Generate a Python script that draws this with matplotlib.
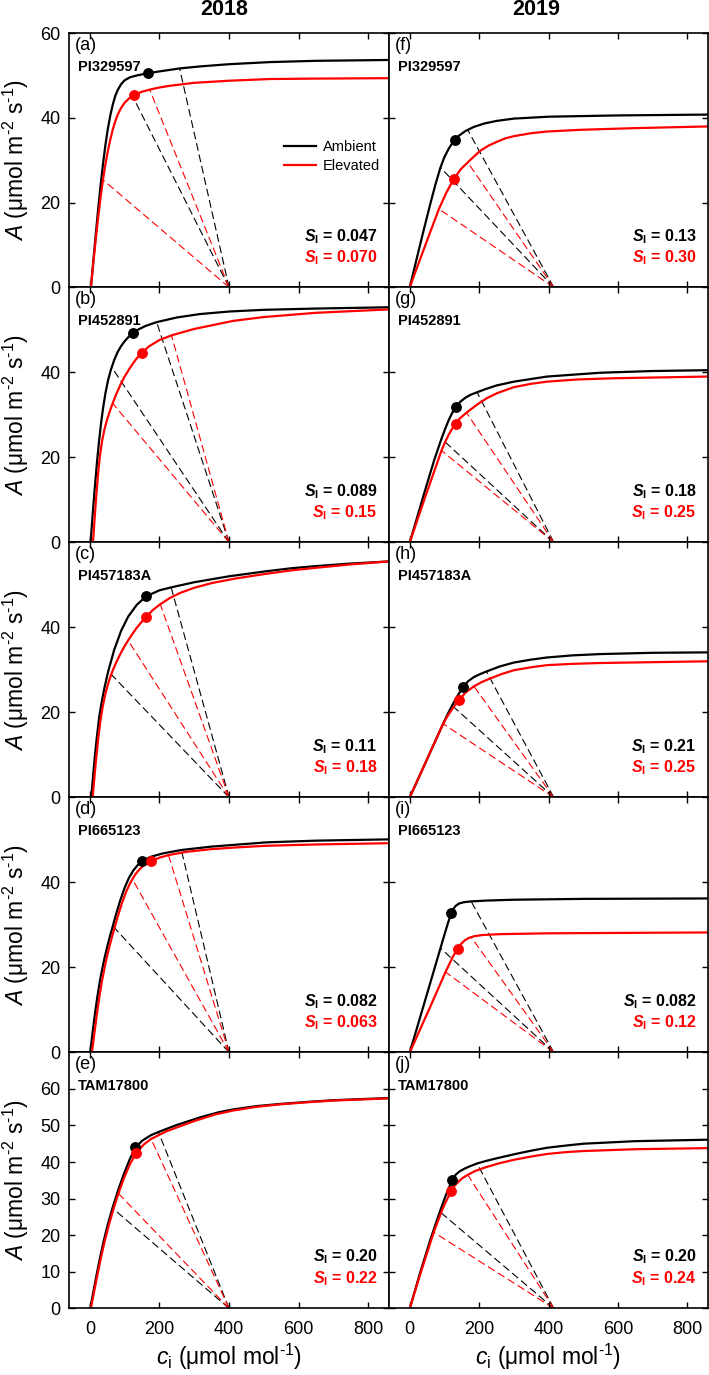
import matplotlib
matplotlib.use('Agg')
import matplotlib.pyplot as plt

plt.rcParams['font.family'] = ['Liberation Sans', 'DejaVu Sans']
plt.rcParams['mathtext.fontset'] = 'custom'
plt.rcParams['mathtext.rm'] = 'Liberation Sans'
plt.rcParams['mathtext.it'] = 'Liberation Sans:italic'
plt.rcParams['mathtext.bf'] = 'Liberation Sans:bold'
plt.rcParams['mathtext.bfit'] = 'Liberation Sans:italic:bold'

years = ['2018', '2019']
genotypes = ['PI329597', 'PI452891', 'PI457183A', 'PI665123', 'TAM17800']
letters = ['abcde', 'fghij']
ca = [400, 415]          # ambient CO2 where the supply lines meet

# ---- 2018 ----
ci_a_amb = [3, 10, 17, 24, 31, 38, 45, 52, 59, 66, 73, 80, 90, 100, 115, 133, 150, 168, 200, 258, 320, 400, 518, 650, 860]
A_a_amb = [0, 6.3, 12.5, 18.6, 24.2, 29.3, 33.8, 37.6, 40.7, 43.2, 45.2, 46.6, 48.0, 48.9, 49.6, 50.0, 50.3, 50.6, 51.0, 51.7, 52.2, 52.7, 53.2, 53.5, 53.7]
ci_a_elev = [3, 10, 17, 24, 31, 38, 45, 52, 59, 66, 73, 80, 90, 100, 115, 128, 150, 172, 200, 230, 300, 400, 518, 650, 860]
A_a_elev = [0, 5.8, 11.4, 16.6, 21.4, 25.6, 29.2, 32.3, 35.0, 37.3, 39.2, 40.8, 42.4, 43.6, 44.8, 45.5, 46.2, 46.7, 47.2, 47.6, 48.3, 48.8, 49.2, 49.3, 49.4]
op_a = [(168, 50.6), (128, 45.5)]
dash_a_amb = [(258, 51.7), (120, 45.6)]
dash_a_elev = [(172, 46.7), (37.5, 25.4)]

ci_b_amb = [2, 8, 14, 20, 26, 32, 38, 45, 52, 60, 70, 80, 90, 100, 112, 123, 140, 160, 192, 250, 316, 400, 500, 650, 860]
A_b_amb = [0, 6.5, 12.7, 18.4, 23.5, 27.9, 31.6, 35.2, 38.0, 40.5, 42.9, 44.8, 46.2, 47.3, 48.4, 49.2, 50.1, 50.9, 51.8, 52.9, 53.7, 54.3, 54.7, 55.0, 55.3]
ci_b_elev = [9, 14, 19, 24, 29, 35, 42, 50, 58, 66, 76, 88, 100, 115, 132, 149, 170, 200, 235, 300, 412, 500, 650, 860]
A_b_elev = [0, 6.0, 11.6, 16.5, 20.4, 23.8, 26.6, 29.0, 31.0, 32.8, 34.9, 37.1, 39.0, 41.0, 43.0, 44.6, 46.1, 47.6, 48.7, 50.2, 52.1, 53.0, 54.0, 54.8]
op_b = [(123, 49.2), (149, 44.6)]
dash_b_amb = [(192, 51.8), (62.6, 41.2)]
dash_b_elev = [(235, 48.6), (65.6, 32.7)]

ci_c_amb = [4, 9, 14, 20, 27, 34, 42, 53, 70, 90, 110, 135, 162, 200, 234, 300, 400, 508, 580, 650, 750, 860]
A_c_amb = [0, 4.8, 9.3, 14.1, 19.0, 22.4, 25.8, 29.7, 34.7, 39.2, 42.5, 45.3, 47.3, 48.7, 49.4, 50.6, 52.0, 53.2, 53.9, 54.4, 55.0, 55.5]
ci_c_elev = [8, 13, 18, 24, 30, 37, 45, 55, 65, 75, 88, 100, 110, 122, 134, 146, 159, 180, 202, 230, 260, 300, 350, 420, 508, 580, 650, 750, 860]
A_c_elev = [0, 4.6, 9.0, 13.8, 17.8, 21.4, 24.5, 27.4, 29.7, 31.6, 33.8, 35.6, 36.9, 38.4, 39.8, 41.0, 42.2, 44.0, 45.4, 46.9, 48.1, 49.3, 50.4, 51.5, 52.6, 53.4, 54.0, 54.8, 55.5]
op_c = [(162, 47.4), (160, 42.4)]
dash_c_amb = [(234, 49.3), (53.4, 29.6)]
dash_c_elev = [(202, 45.5), (110, 36.9)]

ci_d_amb = [1, 8, 15, 22, 30, 40, 50, 58, 66, 76, 88, 100, 112, 125, 137, 150, 175, 210, 263, 350, 508, 650, 860]
A_d_amb = [0, 4.8, 9.3, 13.3, 17.3, 21.4, 24.9, 27.4, 29.7, 32.7, 35.9, 38.7, 41.0, 42.8, 44.0, 45.0, 46.0, 46.8, 47.6, 48.4, 49.4, 49.8, 50.1]
ci_d_elev = [6, 13, 20, 27, 35, 45, 55, 63, 71, 81, 93, 105, 117, 130, 142, 155, 177, 200, 226, 280, 350, 420, 508, 650, 860]
A_d_elev = [0, 4.5, 8.9, 12.9, 16.9, 21.0, 24.5, 27.0, 29.3, 32.2, 35.3, 37.9, 40.0, 41.8, 43.0, 44.0, 45.0, 45.8, 46.4, 47.2, 47.8, 48.2, 48.6, 48.9, 49.2]
op_d = [(150, 45.0), (177, 45.0)]
dash_d_amb = [(263, 47.6), (66, 29.7)]
dash_d_elev = [(226, 46.4), (122, 40.8)]

ci_e_amb = [1, 10, 20, 30, 40, 52, 65, 82, 98, 114, 130, 150, 175, 197, 249, 320, 370, 413, 480, 550, 620, 700, 780, 860]
A_e_amb = [0, 4.5, 9.5, 14.2, 18.5, 23.1, 27.4, 32.5, 36.8, 40.6, 43.8, 45.8, 47.3, 48.2, 50.1, 52.3, 53.6, 54.4, 55.3, 55.9, 56.4, 56.9, 57.2, 57.5]
ci_e_elev = [3, 12, 22, 32, 42, 55, 68, 82, 98, 116, 134, 155, 176, 220, 300, 360, 413, 480, 550, 620, 700, 780, 860]
A_e_elev = [0, 4.5, 9.3, 13.9, 18.1, 22.9, 27.2, 31.4, 35.6, 39.6, 42.5, 44.8, 46.3, 48.4, 51.2, 53.0, 54.1, 55.1, 55.8, 56.3, 56.8, 57.1, 57.4]
op_e = [(130, 44.2), (134, 42.4)]
dash_e_amb = [(197, 48.2), (65, 27.4)]
dash_e_elev = [(176, 46.3), (82, 31.4)]

# ---- 2019 ----
ci_f_amb = [0, 20, 40, 60, 75, 88, 100, 112, 125, 140, 160, 185, 215, 250, 300, 400, 600, 860]
A_f_amb = [0, 6.8, 13.5, 20.0, 24.6, 28.2, 30.8, 32.7, 34.4, 35.7, 36.9, 37.9, 38.7, 39.3, 39.85, 40.3, 40.6, 40.8]
ci_f_elev = [0, 20, 40, 60, 84, 105, 127, 147, 167, 185, 204, 228, 252, 276, 300, 350, 396, 492, 570, 650, 860]
A_f_elev = [0, 4.5, 8.9, 13.3, 18.5, 22.3, 25.6, 27.9, 29.5, 30.9, 32.3, 33.5, 34.4, 35.2, 35.7, 36.4, 36.8, 37.2, 37.4, 37.6, 38.0]
op_f = [(129, 34.8), (127, 25.6)]
dash_f_amb = [(167, 37.2), (88.5, 28.3)]
dash_f_elev = [(167, 29.5), (84, 18.5)]

ci_g_amb = [0, 45, 70, 91.4, 102, 112, 122, 133, 146, 160, 175, 194, 220, 250, 300, 396, 550, 700, 860]
A_g_amb = [0, 12.5, 19.25, 24.4, 26.7, 28.7, 30.4, 31.9, 33.1, 34.0, 34.7, 35.3, 36.1, 36.9, 37.8, 39.0, 39.9, 40.3, 40.5]
ci_g_elev = [0, 45, 70, 91.4, 102, 112, 122, 132, 145, 163.5, 194, 222, 252, 300, 350, 396, 480, 588, 860]
A_g_elev = [0, 10.8, 16.6, 21.6, 23.6, 25.3, 26.7, 27.9, 29.2, 30.5, 32.4, 33.9, 35.1, 36.5, 37.3, 37.8, 38.3, 38.6, 39.0]
op_g = [(133, 31.9), (132, 27.9)]
dash_g_amb = [(194, 35.3), (91.4, 24.4)]
dash_g_elev = [(163.5, 30.5), (91.4, 21.6)]

ci_h_amb = [0, 50, 96, 110, 122, 140, 154, 168, 185, 203, 221, 260, 300, 350, 396, 470, 550, 700, 860]
A_h_amb = [0, 9.0, 17.3, 19.7, 21.6, 24.2, 26.0, 27.3, 28.3, 29.0, 29.6, 30.8, 31.7, 32.4, 32.9, 33.4, 33.7, 34.0, 34.1]
ci_h_elev = [0, 50, 96, 108, 120, 141, 163, 185, 207, 230, 265, 300, 350, 396, 470, 550, 860]
A_h_elev = [0, 9.0, 17.3, 19.0, 20.5, 22.9, 24.8, 26.1, 27.1, 27.9, 29.0, 29.9, 30.6, 31.1, 31.4, 31.6, 32.0]
op_h = [(154, 26.0), (141, 22.9)]
dash_h_amb = [(221, 29.6), (122, 21.6)]
dash_h_elev = [(185, 26.1), (96, 17.3)]

ci_i_amb = [0, 60, 100, 110, 119, 126, 133, 142, 155, 175, 220, 300, 500, 860]
A_i_amb = [0, 16.6, 27.7, 30.4, 32.6, 33.8, 34.5, 35.0, 35.3, 35.5, 35.7, 35.9, 36.1, 36.2]
ci_i_elev = [0, 60, 103, 125, 138, 148, 158, 170, 185, 210, 260, 400, 860]
A_i_elev = [0, 10.9, 18.9, 22.6, 24.4, 25.5, 26.3, 26.9, 27.3, 27.6, 27.8, 28.0, 28.2]
op_i = [(119, 32.8), (138, 24.4)]
dash_i_amb = [(177, 35.5), (88.5, 24.5)]
dash_i_elev = [(177, 27.1), (103, 18.9)]

ci_j_amb = [0, 30, 60, 86.6, 105, 122, 132, 143, 158, 175, 194, 220, 250, 300, 350, 396, 450, 500, 650, 860]
A_j_amb = [0, 9.8, 19.0, 26.4, 31.2, 35.0, 36.5, 37.4, 38.2, 38.9, 39.6, 40.3, 41.0, 42.1, 43.1, 43.9, 44.5, 45.0, 45.7, 46.1]
ci_j_elev = [0, 30, 69, 95, 119, 129, 140, 152, 167, 190, 220, 260, 300, 350, 396, 450, 500, 650, 860]
A_j_elev = [0, 9.3, 20.8, 27.3, 32.1, 33.5, 34.6, 35.6, 36.5, 37.6, 38.6, 39.7, 40.6, 41.5, 42.2, 42.7, 43.0, 43.5, 43.8]
op_j = [(122, 35.0), (119, 32.1)]
dash_j_amb = [(194, 39.6), (86.6, 26.4)]
dash_j_elev = [(167, 36.5), (69, 20.8)]

# stomatal limitation labels (ambient, elevated)
sl_2018 = [('0.047', '0.070'), ('0.089', '0.15'), ('0.11', '0.18'), ('0.082', '0.063'), ('0.20', '0.22')]
sl_2019 = [('0.13', '0.30'), ('0.18', '0.25'), ('0.21', '0.25'), ('0.082', '0.12'), ('0.20', '0.24')]

panels = [
    [(ci_a_amb, A_a_amb, ci_a_elev, A_a_elev, op_a, dash_a_amb, dash_a_elev),
     (ci_b_amb, A_b_amb, ci_b_elev, A_b_elev, op_b, dash_b_amb, dash_b_elev),
     (ci_c_amb, A_c_amb, ci_c_elev, A_c_elev, op_c, dash_c_amb, dash_c_elev),
     (ci_d_amb, A_d_amb, ci_d_elev, A_d_elev, op_d, dash_d_amb, dash_d_elev),
     (ci_e_amb, A_e_amb, ci_e_elev, A_e_elev, op_e, dash_e_amb, dash_e_elev)],
    [(ci_f_amb, A_f_amb, ci_f_elev, A_f_elev, op_f, dash_f_amb, dash_f_elev),
     (ci_g_amb, A_g_amb, ci_g_elev, A_g_elev, op_g, dash_g_amb, dash_g_elev),
     (ci_h_amb, A_h_amb, ci_h_elev, A_h_elev, op_h, dash_h_amb, dash_h_elev),
     (ci_i_amb, A_i_amb, ci_i_elev, A_i_elev, op_i, dash_i_amb, dash_i_elev),
     (ci_j_amb, A_j_amb, ci_j_elev, A_j_elev, op_j, dash_j_amb, dash_j_elev)],
]
sl = [sl_2018, sl_2019]

RED = '#ff0000'
W, H = 709, 1375
col_x = [(69, 389), (389, 708)]
row_y = [(33.3, 287.3), (287.3, 542.3), (542.3, 797.3), (797.3, 1052.3), (1052.3, 1308.3)]

fig = plt.figure(figsize=(W / 100, H / 100), dpi=100)

for col in range(2):
    x0, x1 = col_x[col]
    for row in range(5):
        yt, yb = row_y[row]
        ax = fig.add_axes([x0 / W, 1 - yb / H, (x1 - x0) / W, (yb - yt) / H])
        ci_amb, a_amb, ci_elev, a_elev, op, d_amb, d_elev = panels[col][row]

        for (x, y) in d_amb:
            ax.plot([ca[col], x], [0, y], color='k', lw=0.8, ls=(0, (7, 3.5)), zorder=1)
        for (x, y) in d_elev:
            ax.plot([ca[col], x], [0, y], color=RED, lw=0.8, ls=(0, (7, 3.5)), zorder=1)

        amb_line, = ax.plot(ci_amb, a_amb, color='k', lw=1.6, zorder=2, label='Ambient')
        elev_line, = ax.plot(ci_elev, a_elev, color=RED, lw=1.6, zorder=2, label='Elevated')
        ax.plot(*op[0], 'o', color='k', ms=6.8, zorder=3)
        ax.plot(*op[1], 'o', color=RED, ms=6.8, zorder=3)

        ax.set_xlim(-60, 860)
        ax.set_xticks([0, 200, 400, 600, 800])
        if row < 4:
            ax.set_ylim(0, 60)
            ax.set_yticks([0, 20, 40, 60])
            ylabels = ['0', '20', '40', '60' if row == 0 else '']
        else:
            ax.set_ylim(0, 70)
            ax.set_yticks(range(0, 71, 10))
            ylabels = [str(v) for v in range(0, 61, 10)] + ['']
        ax.set_yticklabels(ylabels)

        ax.tick_params(direction='in', top=True, right=True, length=4.5, width=1, labelsize=13)
        ax.tick_params(axis='x', pad=9, labelbottom=(row == 4))
        ax.tick_params(axis='y', pad=6, labelleft=(col == 0))
        for sp in ax.spines.values():
            sp.set_linewidth(1.2)

        if col == 0:
            ax.set_ylabel(r'$\mathit{A}$ (μmol m$^{\text{-}2}$ s$^{\text{-}1}$)', fontsize=16.5, labelpad=7)
        if row == 4:
            ax.set_xlabel(r'$\mathit{c}_\mathrm{i}$ (μmol mol$^{\text{-}1}$)', fontsize=16.5, labelpad=3)

        ax.text(0.018, 0.985, '(%s)' % letters[col][row], transform=ax.transAxes,
                ha='left', va='top', fontsize=13)
        ax.text(0.028, 0.895, genotypes[row], transform=ax.transAxes,
                ha='left', va='top', fontsize=10.5, fontweight='bold')
        s_amb, s_elev = sl[col][row]
        ax.text(0.965, 0.2, r'$\mathbfit{S}_\mathbf{l}$ = ' + s_amb, transform=ax.transAxes,
                ha='right', va='center', fontsize=11.5, fontweight='bold', color='k')
        ax.text(0.965, 0.115, r'$\mathbfit{S}_\mathbf{l}$ = ' + s_elev, transform=ax.transAxes,
                ha='right', va='center', fontsize=11.5, fontweight='bold', color=RED)

        if col == 0 and row == 0:
            ax.legend(handles=[amb_line, elev_line], loc='center left', bbox_to_anchor=(0.63, 0.515),
                      frameon=False, fontsize=10.5, handlelength=2.2, handletextpad=0.5, labelspacing=0.35)

fig.text(224 / W, 1 - 9.5 / H, years[0], ha='center', va='center', fontsize=15.5, fontweight='bold')
fig.text(536 / W, 1 - 9.5 / H, years[1], ha='center', va='center', fontsize=15.5, fontweight='bold')

fig.savefig('out.png', dpi=100)
